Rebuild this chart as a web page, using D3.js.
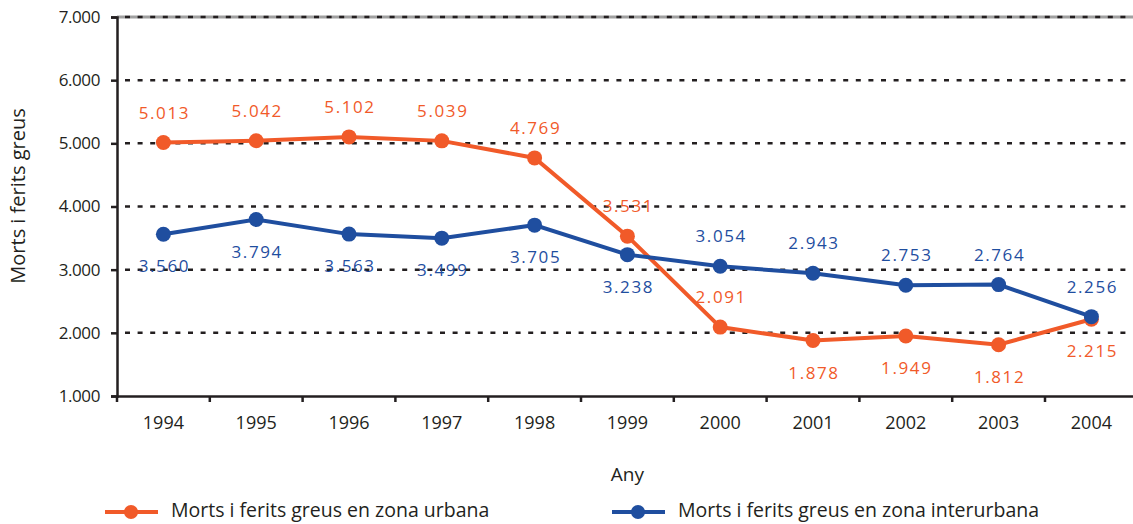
<!DOCTYPE html>
<html><head>
<meta charset="utf-8">
<title>Morts i ferits greus</title>
<script src="https://d3js.org/d3.v7.min.js"></script>
<style>
body { margin: 0; background: #fff; }
svg text { font-family: "Open Sans", sans-serif; fill: #231f20; }
</style>
</head>
<body>
<div id="chart"></div>
<script>

var years = ["1994", "1995", "1996", "1997", "1998", "1999", "2000", "2001", "2002", "2003", "2004"];
var urbana = [5013, 5042, 5102, 5039, 4769, 3531, 2091, 1878, 1949, 1812, 2215];
var interurbana = [3560, 3794, 3563, 3499, 3705, 3238, 3054, 2943, 2753, 2764, 2256];
// where each value label sits relative to its point
var urbanaLabelPos = ["up", "up", "up", "up", "up", "up", "up", "down", "down", "down", "down"];
var interurbanaLabelPos = ["down", "down", "down", "down", "down", "down", "up", "up", "up", "up", "up"];
var yTicks = [1000, 2000, 3000, 4000, 5000, 6000, 7000];
var seriesNames = ["Morts i ferits greus en zona urbana", "Morts i ferits greus en zona interurbana"];
var axisTitleX = "Any";
var axisTitleY = "Morts i ferits greus";

var W = 1133, H = 524;
var margin = {top: 17, left: 117, bottom: 128};
var step = 92.8;

var orange = "#f15a29";
var blue = "#1f4e9f";

var loc = d3.formatLocale({decimal: ",", thousands: ".", grouping: [3], currency: ["", ""]});
var fmt = loc.format(",.0f");

var svg = d3.select("#chart").append("svg")
    .attr("width", W)
    .attr("height", H);

var x = d3.scaleBand()
    .domain(years)
    .range([margin.left, margin.left + step * years.length]);

var y = d3.scaleLinear()
    .domain([1000, 7000])
    .range([H - margin.bottom, margin.top]);

// top border line (grey) under the 7.000 dashes
svg.append("line")
    .attr("x1", margin.left).attr("x2", W)
    .attr("y1", y(7000)).attr("y2", y(7000))
    .attr("stroke", "#a0a0a0")
    .attr("stroke-width", 3);

// dashed gridlines
svg.append("g")
  .selectAll("line")
  .data(yTicks.slice(1))
  .join("line")
    .attr("x1", margin.left + 8).attr("x2", W - 6)
    .attr("y1", function(d) { return y(d); })
    .attr("y2", function(d) { return y(d); })
    .attr("stroke", "#231f20")
    .attr("stroke-width", 2.5)
    .attr("stroke-dasharray", "5,7.6");

// y axis
var yAxis = svg.append("g")
    .attr("transform", "translate(" + margin.left + ",0)")
    .call(d3.axisLeft(y).tickValues(yTicks).tickFormat(fmt).tickSize(6).tickPadding(11));
yAxis.select(".domain").attr("stroke", "#231f20").attr("stroke-width", 2.5);
yAxis.selectAll(".tick line").attr("stroke", "#231f20").attr("stroke-width", 2.5);
yAxis.selectAll(".tick text")
    .style("font-size", "17px")
    .style("letter-spacing", "-0.4px")
    .attr("fill", "#231f20");

// x axis: labels at band centres, tick marks at band edges
var xAxis = svg.append("g")
    .attr("transform", "translate(0," + y(1000) + ")")
    .call(d3.axisBottom(x).tickSize(0).tickPadding(20).tickSizeOuter(0));
xAxis.select(".domain").attr("stroke", "#231f20").attr("stroke-width", 2.5);
xAxis.selectAll(".tick text")
    .style("font-size", "18px")
    .attr("fill", "#231f20");
xAxis.selectAll("line.edge")
  .data(years)
  .join("line")
    .attr("class", "edge")
    .attr("x1", function(d) { return x(d); })
    .attr("x2", function(d) { return x(d); })
    .attr("y1", 0).attr("y2", 6)
    .attr("stroke", "#231f20")
    .attr("stroke-width", 2.5);

// axis titles
svg.append("text")
    .attr("x", x("1999") + x.bandwidth() / 2)
    .attr("y", 481)
    .attr("text-anchor", "middle")
    .style("font-size", "19px")
    .text(axisTitleX);

svg.append("text")
    .attr("transform", "translate(25,196) rotate(-90)")
    .attr("text-anchor", "middle")
    .style("font-size", "20px")
    .text(axisTitleY);

var line = d3.line()
    .x(function(d, i) { return x(years[i]) + x.bandwidth() / 2; })
    .y(function(d) { return y(d); });

function drawSeries(values, pos, color) {
  var g = svg.append("g");
  g.append("path")
      .datum(values)
      .attr("fill", "none")
      .attr("stroke", color)
      .attr("stroke-width", 4)
      .attr("d", line);
  g.selectAll("circle")
    .data(values)
    .join("circle")
      .attr("cx", function(d, i) { return x(years[i]) + x.bandwidth() / 2; })
      .attr("cy", function(d) { return y(d); })
      .attr("r", 7.5)
      .attr("fill", color);
  g.selectAll("text")
    .data(values)
    .join("text")
      .attr("x", function(d, i) { return x(years[i]) + x.bandwidth() / 2 + 1; })
      .attr("y", function(d, i) { return y(d) + (pos[i] == "up" ? -24 : 38); })
      .attr("text-anchor", "middle")
      .style("font-size", "17px")
      .style("letter-spacing", "1.6px")
      .style("fill", color)
      .text(function(d) { return fmt(d); });
}

drawSeries(urbana, urbanaLabelPos, orange);
drawSeries(interurbana, interurbanaLabelPos, blue);

// legend
var legend = svg.append("g").attr("transform", "translate(0,512)");
var legendX = [105, 612];
var legendColors = [orange, blue];
seriesNames.forEach(function(name, i) {
  var lg = legend.append("g").attr("transform", "translate(" + legendX[i] + ",0)");
  lg.append("line")
      .attr("x1", 0).attr("x2", 53)
      .attr("y1", 0).attr("y2", 0)
      .attr("stroke", legendColors[i])
      .attr("stroke-width", 4);
  lg.append("circle")
      .attr("cx", 26).attr("cy", 0)
      .attr("r", 7)
      .attr("fill", legendColors[i]);
  lg.append("text")
      .attr("x", 66)
      .attr("y", 5)
      .style("font-size", "19.5px")
      .text(name);
});

</script>
</body></html>
